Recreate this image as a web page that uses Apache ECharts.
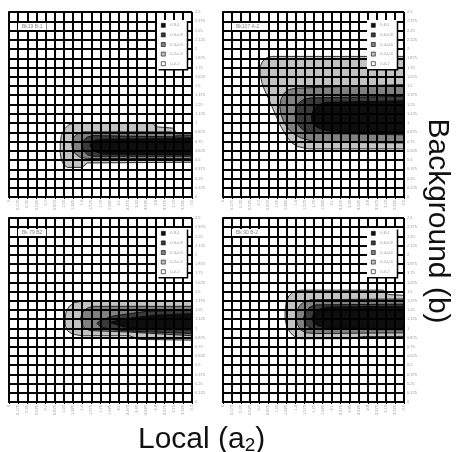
<!DOCTYPE html>
<html>
<head>
<meta charset="utf-8">
<script src="https://cdn.jsdelivr.net/npm/echarts@6/dist/echarts.min.js"></script>
<style>
  html, body { margin: 0; padding: 0; background: #fff; }
  #chart { width: 456px; height: 452px; }
</style>
</head>
<body>
<div id="chart"></div>
<script>
// axis ranges
const xMax = 3.5, xStep = 0.175;
const yMax = 2.5, yStep = 0.125;

const panelTitles = ['Bk19 B-1', 'Bk107 A-2', 'Bk 79 B2', 'Bk 90 B-2'];
const levelNames = ['0.8-1', '0.6-0.8', '0.4-0.6', '0.2-0.4', '0-0.2'];
const levelColors = ['#0e0e0e', '#3a3a3a', '#808080', '#c2c2c2', '#ffffff'];

// contour polygons [a2, b], one per level: 0.2-0.4, 0.4-0.6, 0.6-0.8, 0.8-1
const contoursBk19 = [
  [[3.5,0.85],[3.2,0.85],[3.15,0.93],[2.8,0.95],[2.75,1.0],[1.3,1.0],[1.15,0.98],[1.06,0.92],[1.0,0.83],[0.98,0.72],[0.98,0.6],[1.0,0.5],[1.05,0.43],[1.12,0.4],[1.4,0.4],[1.5,0.46],[3.5,0.47]],
  [[3.5,0.52],[1.5,0.52],[1.35,0.54],[1.26,0.59],[1.21,0.66],[1.2,0.73],[1.23,0.8],[1.3,0.85],[1.4,0.88],[2.0,0.88],[3.1,0.88],[3.2,0.83],[3.5,0.83]],
  [[3.5,0.55],[1.6,0.55],[1.5,0.57],[1.43,0.62],[1.4,0.7],[1.43,0.77],[1.5,0.81],[1.6,0.83],[3.5,0.81]],
  [[3.5,0.57],[1.8,0.58],[1.66,0.61],[1.58,0.65],[1.55,0.7],[1.58,0.74],[1.66,0.77],[1.8,0.78],[3.5,0.79]]
];
const contoursBk107 = [
  [[3.5,1.9],[0.95,1.9],[0.84,1.88],[0.76,1.83],[0.72,1.76],[0.72,1.66],[0.75,1.55],[0.8,1.45],[0.88,1.33],[0.96,1.2],[1.04,1.07],[1.12,0.95],[1.22,0.83],[1.33,0.73],[1.45,0.68],[1.65,0.65],[3.5,0.65]],
  [[3.5,1.52],[2.6,1.5],[1.4,1.47],[1.27,1.45],[1.18,1.4],[1.12,1.32],[1.1,1.22],[1.12,1.12],[1.17,1.02],[1.25,0.93],[1.35,0.86],[1.5,0.8],[1.8,0.74],[3.5,0.73]],
  [[3.5,1.36],[1.7,1.34],[1.56,1.32],[1.46,1.27],[1.41,1.2],[1.39,1.12],[1.41,1.03],[1.48,0.95],[1.58,0.89],[1.7,0.86],[3.5,0.84]],
  [[3.5,1.3],[2.0,1.28],[1.86,1.25],[1.76,1.19],[1.71,1.11],[1.72,1.02],[1.8,0.95],[1.92,0.91],[2.1,0.89],[3.5,0.88]]
];
const contoursBk79 = [
  [[3.5,1.37],[1.4,1.37],[1.25,1.35],[1.15,1.3],[1.09,1.22],[1.07,1.12],[1.08,1.03],[1.13,0.96],[1.22,0.92],[1.4,0.9],[2.3,0.9],[2.5,0.85],[3.5,0.84]],
  [[3.5,1.3],[1.6,1.3],[1.48,1.27],[1.4,1.21],[1.37,1.14],[1.39,1.06],[1.45,1.0],[1.55,0.97],[2.3,0.95],[3.5,0.9]],
  [[3.5,1.25],[2.6,1.23],[2.0,1.17],[1.75,1.11],[1.68,1.07],[1.75,1.02],[2.0,0.98],[2.4,0.96],[3.5,0.93]],
  [[3.5,1.2],[2.8,1.18],[2.2,1.13],[1.92,1.08],[2.2,1.02],[2.8,0.99],[3.5,0.98]]
];
const contoursBk90 = [
  [[3.5,1.45],[3.2,1.46],[3.1,1.52],[1.5,1.52],[1.36,1.5],[1.27,1.44],[1.22,1.35],[1.2,1.24],[1.2,1.13],[1.23,1.03],[1.29,0.95],[1.38,0.89],[1.5,0.86],[2.5,0.86],[2.7,0.89],[3.5,0.89]],
  [[3.5,1.4],[1.7,1.39],[1.56,1.36],[1.47,1.3],[1.42,1.22],[1.41,1.13],[1.44,1.05],[1.5,0.98],[1.6,0.94],[1.8,0.93],[3.5,0.94]],
  [[3.5,1.33],[1.8,1.32],[1.68,1.29],[1.6,1.23],[1.56,1.15],[1.58,1.07],[1.65,1.02],[1.75,0.99],[3.5,0.98]],
  [[3.5,1.3],[2.0,1.29],[1.86,1.26],[1.77,1.21],[1.72,1.15],[1.74,1.09],[1.82,1.04],[2.0,1.01],[3.5,1.0]]
];
const panelContours = [contoursBk19, contoursBk107, contoursBk79, contoursBk90];

const grids = [
  { left: 9,   top: 12,  width: 183, height: 185 },
  { left: 223, top: 12,  width: 181, height: 185 },
  { left: 9,   top: 218, width: 183, height: 184 },
  { left: 223, top: 218, width: 181, height: 184 }
];
const legendPos = [[157, 20], [367, 20], [157, 228], [367, 228]];

const fmt = v => String(+v.toFixed(3));

const chart = echarts.init(document.getElementById('chart'), null, { renderer: 'canvas' });

const xAxes = [], yAxes = [], series = [], legends = [], titles = [];
grids.forEach((g, i) => {
  xAxes.push({
    type: 'value', gridIndex: i, min: 0, max: xMax, interval: xStep, z: 10,
    axisLine: { lineStyle: { color: '#000', width: 2 } },
    axisTick: { show: true, length: 2, lineStyle: { color: '#000', width: 1 } },
    splitLine: { show: true, lineStyle: { color: '#000', width: 2 } },
    axisLabel: { fontSize: 4, color: '#999', rotate: 90, margin: 3, formatter: fmt, hideOverlap: false }
  });
  yAxes.push({
    type: 'value', gridIndex: i, position: 'right', min: 0, max: yMax, interval: yStep, z: 10,
    axisLine: { show: true, lineStyle: { color: '#000', width: 2 } },
    axisTick: { show: true, length: 2, lineStyle: { color: '#000', width: 1 } },
    splitLine: { show: true, lineStyle: { color: '#000', width: 2 } },
    axisLabel: { fontSize: 4, color: '#999', margin: 3, formatter: fmt, hideOverlap: false }
  });
  const polys = panelContours[i];
  // lowest level first so darker levels sit on top
  [3, 2, 1, 0].forEach(lv => {
    const poly = polys[3 - lv];
    series.push({
      type: 'custom', name: levelNames[lv], xAxisIndex: i, yAxisIndex: i,
      itemStyle: { color: levelColors[lv] },
      clip: true, silent: true,
      data: poly,
      renderItem: (params, api) => {
        if (params.dataIndex !== 0) return null;
        return {
          type: 'polygon',
          shape: { points: poly.map(p => api.coord(p)) },
          style: { fill: levelColors[lv], stroke: '#000', lineWidth: 0.8 }
        };
      }
    });
  });
  series.push({
    type: 'custom', name: levelNames[4], xAxisIndex: i, yAxisIndex: i,
    itemStyle: { color: levelColors[4] }, data: [], renderItem: () => null
  });
  legends.push({
    data: levelNames, orient: 'vertical', left: legendPos[i][0], top: legendPos[i][1], z: 20,
    itemWidth: 4, itemHeight: 4, itemGap: 5, padding: [3, 4, 3, 4],
    backgroundColor: '#fff', selectedMode: false, icon: 'rect',
    itemStyle: { borderColor: '#000', borderWidth: 0.6 },
    textStyle: { fontSize: 4, color: '#999' },
    shadowColor: '#000', shadowOffsetX: 1.5, shadowOffsetY: 1.5, shadowBlur: 0
  });
  titles.push({
    text: panelTitles[i], left: g.left + 9, top: g.top + 11, z: 20,
    backgroundColor: '#fff', padding: [1, 4],
    textStyle: { fontSize: 5, color: '#888', fontWeight: 'normal', fontFamily: 'Liberation Sans' }
  });
});

titles.push({
  text: '{n|Local (a}{s|2}{n|)}', left: 133, top: 414,
  textStyle: {
    fontWeight: 'normal',
    rich: {
      n: { fontSize: 30, fontFamily: 'Liberation Sans', fontWeight: 'normal', color: '#111', lineHeight: 36, verticalAlign: 'bottom' },
      s: { fontSize: 19, fontFamily: 'Liberation Sans', fontWeight: 'normal', color: '#111', lineHeight: 14, verticalAlign: 'bottom' }
    }
  }
});

chart.setOption({
  animation: false,
  backgroundColor: '#fff',
  title: titles,
  legend: legends,
  grid: grids,
  xAxis: xAxes,
  yAxis: yAxes,
  series: series,
  graphic: [{
    type: 'text', x: 437, y: 221, rotation: -Math.PI / 2,
    style: {
      text: 'Background (b)', font: '30px "Liberation Sans"', fill: '#111',
      align: 'center', verticalAlign: 'middle', textAlign: 'center', textVerticalAlign: 'middle'
    }
  }]
});
</script>
</body>
</html>
